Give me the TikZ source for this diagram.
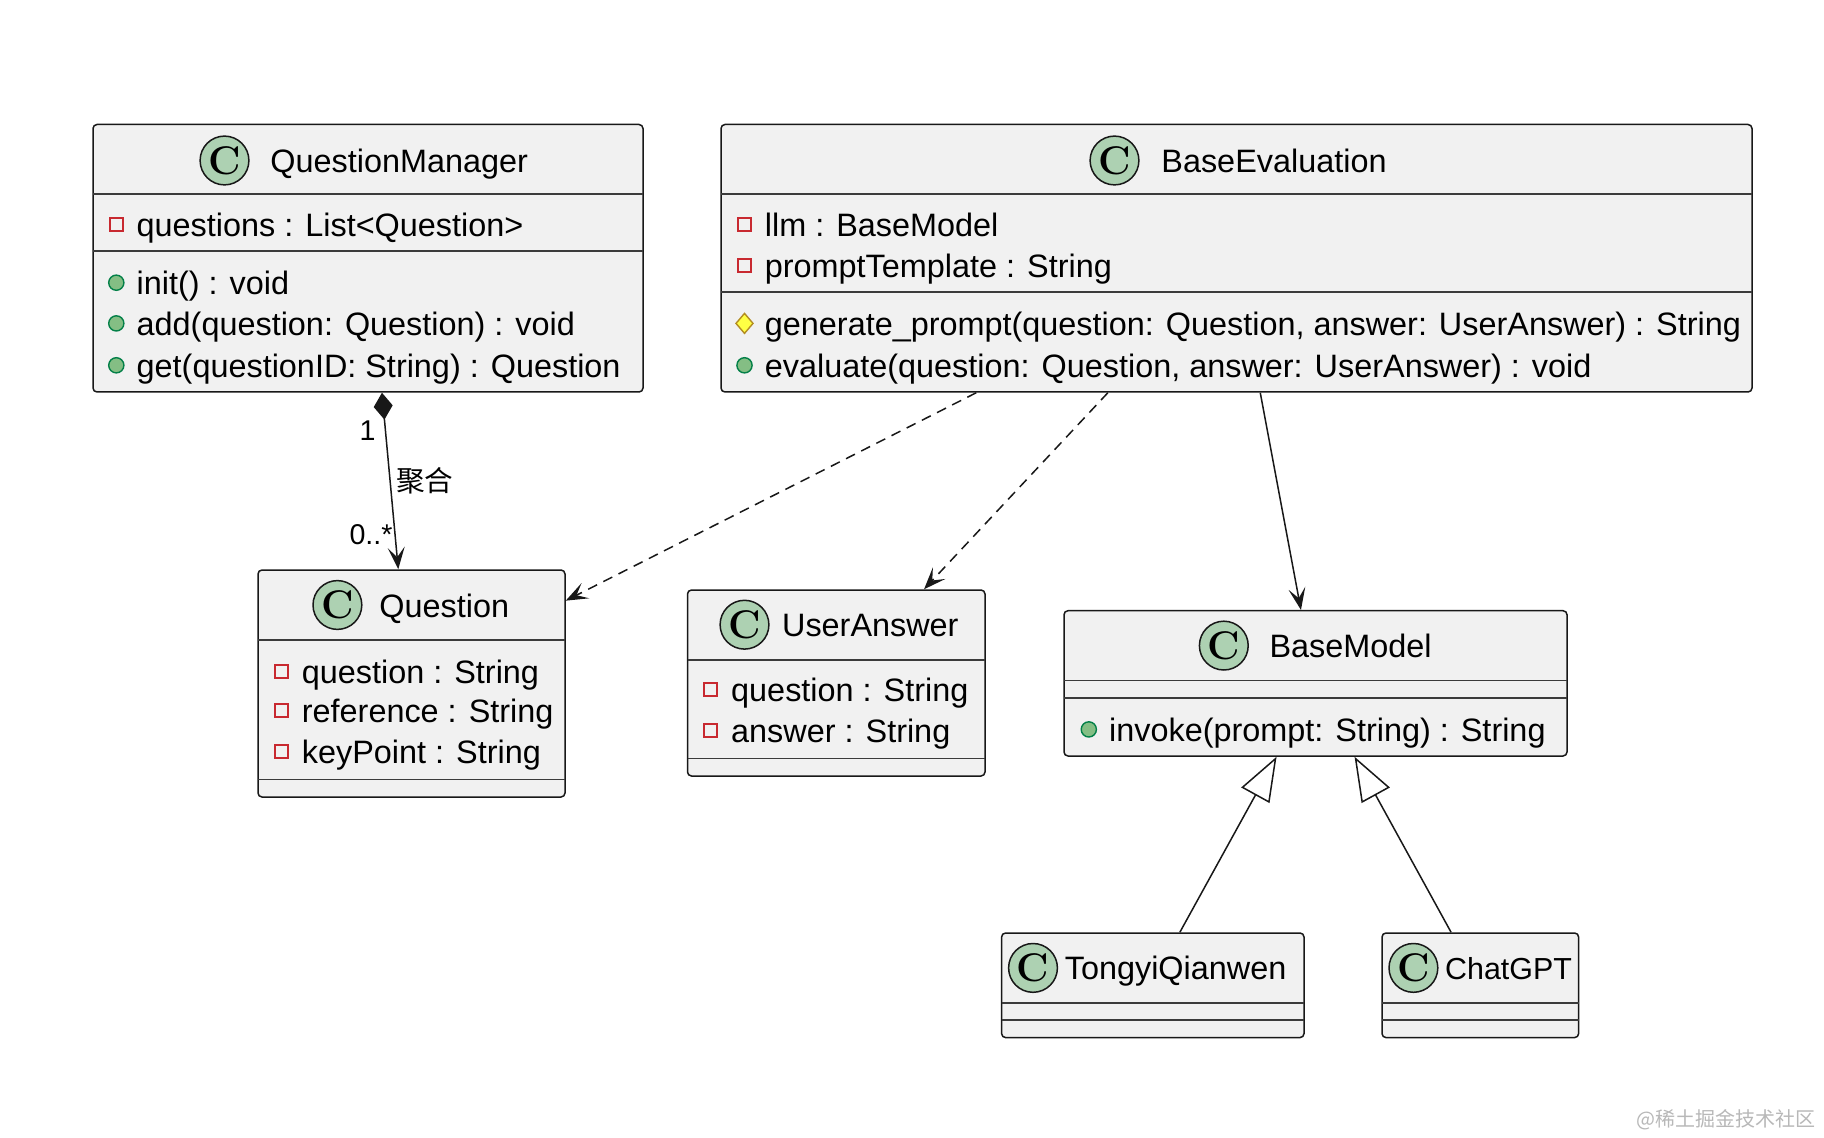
\documentclass[tikz,border=0pt]{standalone}
\usepackage{fontspec}
\setmainfont{Liberation Sans}
\newfontfamily\cjk{Noto Sans CJK SC}
\newfontfamily\cfont{Latin Modern Roman}
\usetikzlibrary{arrows.meta,fit,calc}
\definecolor{boxfill}{HTML}{F1F1F1}
\definecolor{linec}{HTML}{181818}
\definecolor{cgreen}{HTML}{ADD1B2}
\definecolor{privred}{HTML}{C82930}
\definecolor{pubfill}{HTML}{84BE84}
\definecolor{pubdraw}{HTML}{038048}
\definecolor{protfill}{HTML}{FFFF44}
\definecolor{protdraw}{HTML}{B38D22}
\definecolor{wmark}{HTML}{B8B8B8}
\tikzset{
  clsbox/.style={draw=linec, fill=boxfill, line width=0.75pt, rounded corners=2pt, inner sep=0pt},
  sepline/.style={draw=linec!85, line width=0.9pt},
  txt/.style={anchor=base west, inner sep=0pt, text=black, font=\fontsize{16.2}{20}\selectfont},
  cicon/.style={circle, draw=linec, fill=cgreen, line width=0.75pt, minimum size=24.4pt, inner sep=0pt, font=\cfont\bfseries\fontsize{20}{20}\selectfont},
  privico/.style={draw=privred, line width=0.85pt, fill=boxfill},
  pubico/.style={draw=pubdraw, fill=pubfill, line width=0.7pt},
  protico/.style={draw=protdraw, fill=protfill, line width=0.7pt},
  conn/.style={draw=linec, line width=0.75pt},
  head/.style={-{Stealth[length=11pt, width=8.5pt, inset=5pt]}},
  dashedconn/.style={conn, dash pattern=on 5pt off 3.5pt},
  lbl/.style={inner sep=0pt, text=black, font=\fontsize{14.3}{16}\selectfont},
}
% name, x, y, text
\newcommand\privattr[4]{%
  \draw[privico] ({#2-6.5},{#3-6.5}) rectangle ({#2+6.5},{#3+6.5});
  \node[txt] (#1) at ({#2+20},{#3+12}) {#4};}
\newcommand\pubmeth[4]{%
  \draw[pubico] (#2,#3) circle (3.8pt);
  \node[txt] (#1) at ({#2+20},{#3+12}) {#4};}
\newcommand\protmeth[4]{%
  \draw[protico] ({#2},{#3-10}) -- ({#2+8.5},{#3}) -- ({#2},{#3+10}) -- ({#2-8.5},{#3}) -- cycle;
  \node[txt] (#1) at ({#2+20},{#3+12}) {#4};}
% name, circle x, y, text x, text
\newcommand\ctitle[5]{%
  \node[cicon] (#1c) at (#2,#3) {C};
  \node[txt] (#1t) at (#4,{#3+12}) {#5};}
\begin{document}
\begin{tikzpicture}[x=0.5pt,y=-0.5pt]
\useasboundingbox[fill=white] (0,0) rectangle (1824,1138);

% ---------- QuestionManager ----------
\node[clsbox, fit={(93,124.5) (643,392)}] (qm) {};
\ctitle{qm}{224.5}{160.5}{270}{QuestionManager}
\draw[sepline] (93,194.3) -- (643,194.3);
\privattr{qma}{116.3}{224.5}{questions : List<Question>}
\draw[sepline] (93,251.3) -- (643,251.3);
\pubmeth{qmm1}{116.3}{282.7}{init() : void}
\pubmeth{qmm2}{116.3}{323.4}{add(question: Question) : void}
\pubmeth{qmm3}{116.3}{365.3}{get(questionID: String) : Question}

% ---------- BaseEvaluation ----------
\node[clsbox, fit={(721,124.5) (1752,392)}] (be) {};
\ctitle{be}{1114.5}{160.5}{1161}{BaseEvaluation}
\draw[sepline] (721,194.3) -- (1752,194.3);
\privattr{bea1}{744.5}{224.5}{llm : BaseModel}
\privattr{bea2}{744.5}{265.2}{promptTemplate : String}
\draw[sepline] (721,292) -- (1752,292);
\protmeth{bem1}{744.5}{323.4}{generate\_prompt(question: Question, answer: UserAnswer) : String}
\pubmeth{bem2}{744.5}{365.3}{evaluate(question: Question, answer: UserAnswer) : void}

% ---------- Question ----------
\node[clsbox, fit={(258,570) (565,797)}] (q) {};
\ctitle{q}{337.4}{605}{379}{Question}
\draw[sepline] (258,639.8) -- (565,639.8);
\privattr{qa1}{281.5}{671.2}{question : String}
\privattr{qa2}{281.5}{710.8}{reference : String}
\privattr{qa3}{281.5}{751.5}{keyPoint : String}
\draw[sepline] (258,779.4) -- (565,779.4);

% ---------- UserAnswer ----------
\node[clsbox, fit={(687.5,590) (985,776)}] (ua) {};
\ctitle{ua}{744.5}{624.7}{781.7}{UserAnswer}
\draw[sepline] (687.5,659.6) -- (985,659.6);
\privattr{uaa1}{710.8}{689.8}{question : String}
\privattr{uaa2}{710.8}{730.5}{answer : String}
\draw[sepline] (687.5,758.5) -- (985,758.5);

% ---------- BaseModel ----------
\node[clsbox, fit={(1064,610.7) (1567,756)}] (bm) {};
\ctitle{bm}{1223.8}{645.6}{1269.2}{BaseModel}
\draw[sepline] (1064,680.5) -- (1567,680.5);
\draw[sepline] (1064,698) -- (1567,698);
\pubmeth{bmm1}{1088.8}{729.4}{invoke(prompt: String) : String}

% ---------- TongyiQianwen ----------
\node[clsbox, fit={(1001.6,933) (1304,1037.6)}] (tq) {};
\ctitle{tq}{1033}{967.9}{1064.4}{TongyiQianwen}
\draw[sepline] (1001.6,1002.8) -- (1304,1002.8);
\draw[sepline] (1001.6,1020.2) -- (1304,1020.2);

% ---------- ChatGPT ----------
\node[clsbox, fit={(1382,933) (1578.6,1037.6)}] (cg) {};
\node[cicon] (cgc) at (1413.4,967.9) {C};
\node[txt, font=\fontsize{15.2}{20}\selectfont] (cgt) at (1444.8,979.9) {ChatGPT};
\draw[sepline] (1382,1002.8) -- (1578.6,1002.8);
\draw[sepline] (1382,1020.2) -- (1578.6,1020.2);

% ---------- connectors ----------
\draw[conn, {Diamond[length=13.5pt, width=9.5pt]}-{Stealth[length=11pt, width=8.5pt, inset=5pt]}]
  ($(qm.south west)+(289.7,0)$) -- ($(q.north west)+(141,0)$);
\node[lbl] (m1) at (367.6,430.4) {1};
\node[lbl] (agg) at (424.6,480.4) {\cjk 聚合};
\node[lbl] (m2) at (371,535) {0..*};

\draw[dashedconn, head] ($(be.south west)+(256,0)$) -- ($(q.north east)+(0,31.4)$);
\draw[dashedconn, head] ($(be.south west)+(387.6,0)$) -- ($(ua.north west)+(237.3,0)$);
\draw[conn, head] ($(be.south west)+(540,0)$) -- ($(bm.north west)+(237.7,0)$);

\draw[conn, -{Triangle[open, length=22pt, width=16pt, fill=white]}]
  ($(tq.north west)+(179,0)$) -- ($(bm.south west)+(213.3,0)$);
\draw[conn, -{Triangle[open, length=22pt, width=16pt, fill=white]}]
  ($(cg.north west)+(69.8,0)$) -- ($(bm.south west)+(291.3,0)$);

% watermark
\node[inner sep=0pt, anchor=east, text=wmark, font=\cjk\fontsize{10}{12}\selectfont] (wm) at (1816,1120) {@稀土掘金技术社区};
\end{tikzpicture}
\end{document}
